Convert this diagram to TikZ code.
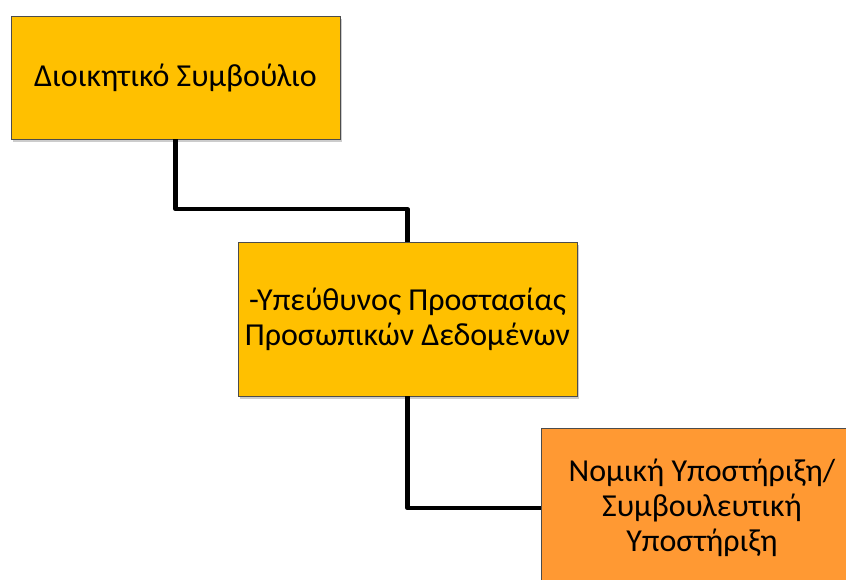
\documentclass[tikz,border=0pt]{standalone}
\usepackage{fontspec}
\setmainfont{Carlito}
\usetikzlibrary{shadows}
\definecolor{oro}{RGB}{255,192,0}
\definecolor{naranja}{RGB}{255,153,51}
\tikzstyle{puesto} = [draw=gray!60!black, fill=oro, thin, rectangle, align=center, inner sep=0pt, font=\fontsize{32}{35}\selectfont, drop shadow={shadow xshift=2pt, shadow yshift=-3pt, opacity=0.4}]
\tikzstyle{apoyo} = [puesto, fill=naranja]
\tikzstyle{enlace} = [draw=black, line width=4.5pt, line join=round]

\begin{document}
\begin{tikzpicture}[x=1pt, y=1pt]
	\path[use as bounding box] (0,0) rectangle (846,-580);
	\node[puesto, minimum width=329pt, minimum height=123pt](consejo) at (175.5,-77.5) {Διοικητικό Συμβούλιο};
	\node[puesto, minimum width=339pt, minimum height=154pt](responsable) at (407.5,-319) {-Υπεύθυνος Προστασίας\\Προσωπικών Δεδομένων};
	\node[apoyo, minimum width=322pt, minimum height=160pt](legal) at (702,-508) {Νομική Υποστήριξη/\\Συμβουλευτική\\Υποστήριξη};
	\draw[enlace] (consejo.south) -- ++(0,-70) -| (responsable.north);
	\draw[enlace] (responsable.south) |- (legal.west);
\end{tikzpicture}
\end{document}
